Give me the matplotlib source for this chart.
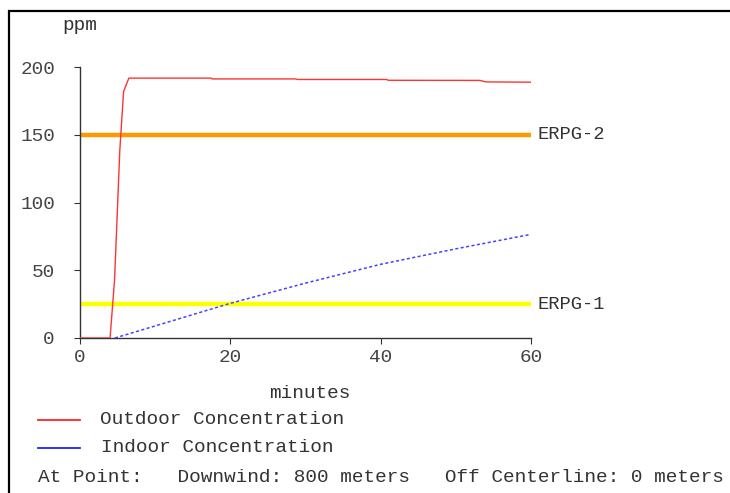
import matplotlib.pyplot as plt
from matplotlib.lines import Line2D
from matplotlib.patches import Rectangle

plt.rcParams['font.family'] = ['Liberation Mono', 'DejaVu Sans Mono']

# Outdoor concentration (ppm) vs time (minutes)
outdoor_t = [0, 4.0, 4.6, 5.3, 5.8, 6.5, 17.4, 17.6, 28.7, 28.9, 40.8, 41.0, 53.2, 54.0, 60]
outdoor_c = [0, 0, 43, 139, 182, 191.8, 191.8, 191.2, 191.2, 190.8, 190.8, 190.2, 190.1, 189.0, 188.8]

# Indoor concentration (ppm) vs time (minutes)
indoor_t = [4.65, 10, 20, 30, 40, 50, 60]
indoor_c = [0, 8.9, 25.6, 40.5, 54.4, 65.8, 76.5]

# Threshold levels (ppm)
erpg_names = ['ERPG-2', 'ERPG-1']
erpg_levels = [150, 25]
erpg_colors = ['#ff9900', '#ffff00']

x_ticks = [0, 20, 40, 60]
y_ticks = [0, 50, 100, 150, 200]

W, H = 730, 493
fig = plt.figure(figsize=(W / 100, H / 100), dpi=100)
ax = fig.add_axes([80 / W, 1 - 338 / H, 451 / W, 271 / H])

txt = '#333333'
fs = 13.95

for name, lvl, col in zip(erpg_names, erpg_levels, erpg_colors):
    ax.plot([0, 60], [lvl, lvl], color=col, lw=3.2, solid_capstyle='butt', zorder=2)
    ax.text(60.9, lvl, name, color=txt, fontsize=13.5, va='center', ha='left')

ax.plot(outdoor_t, outdoor_c, color='#ff3333', lw=1.0, zorder=3)
ax.plot(indoor_t, indoor_c, color='#4444ff', lw=1.1, linestyle=(0, (2, 1.6)), zorder=3)

ax.set_xlim(0, 60)
ax.set_ylim(0, 200)
ax.set_xticks(x_ticks)
ax.set_yticks(y_ticks)
for s in ['top', 'right']:
    ax.spines[s].set_visible(False)
for s in ['left', 'bottom']:
    ax.spines[s].set_color('#333333')
    ax.spines[s].set_linewidth(1.0)
ax.tick_params(axis='y', length=4, pad=14, colors='#333333', labelsize=fs)
ax.tick_params(axis='x', length=4, pad=4, colors='#333333', labelsize=fs)
for lab in ax.get_xticklabels() + ax.get_yticklabels():
    lab.set_color('#444444')

def fx(px):
    return px / W

def fy(py):
    return 1 - py / H

fig.text(fx(62), fy(25), 'ppm', fontsize=fs, color=txt, va='center', ha='left')
fig.text(fx(310), fy(394), 'minutes', fontsize=fs, color=txt, va='center', ha='center')

# legend rows
fig.add_artist(Line2D([fx(38), fx(80)], [fy(420), fy(420)], color='#ff2222', lw=1.3))
fig.text(fx(100), fy(420), 'Outdoor Concentration', fontsize=fs, color=txt, va='center')
fig.add_artist(Line2D([fx(38), fx(80)], [fy(448), fy(448)], color='#2222ff', lw=1.3))
fig.text(fx(101), fy(448), 'Indoor Concentration', fontsize=fs, color=txt, va='center')
fig.text(fx(38), fy(477),
         'At Point:   Downwind: 800 meters   Off Centerline: 0 meters',
         fontsize=fs, color=txt, va='center')

# frame around the whole panel
fig.add_artist(Rectangle((fx(9), fy(H + 5)), 1, fy(11) - fy(H + 5),
                         transform=fig.transFigure, fill=False,
                         edgecolor='black', lw=1.6))

fig.savefig('out.png', dpi=100)
